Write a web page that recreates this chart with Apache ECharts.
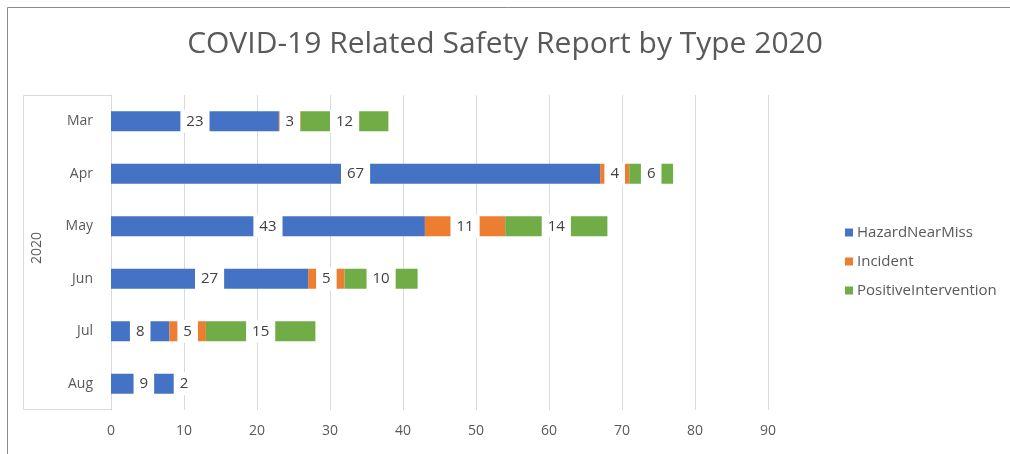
<!DOCTYPE html>
<html>
<head>
<meta charset="utf-8">
<script src="https://cdn.jsdelivr.net/npm/echarts@6/dist/echarts.min.js"></script>
<style>
html,body{margin:0;padding:0;background:#fff;}
#chart{width:1010px;height:454px;}
</style>
</head>
<body>
<div id="chart"></div>
<script>
const months = ['Mar', 'Apr', 'May', 'Jun', 'Jul', 'Aug'];
const groupLabel = '2020';
const hazardNearMiss = [23, 67, 43, 27, 8, 9];
const incident = [3, 4, 11, 5, 5, 2];
const positiveIntervention = [12, 6, 14, 10, 15, null];
const xTicks = [0, 90, 10];
const titleText = 'COVID-19 Related Safety Report by Type 2020';

const FONT = '"Open Sans", "Noto Sans", sans-serif';
const chart = echarts.init(document.getElementById('chart'), null, {renderer: 'canvas'});

function mkSeries(name, data, color) {
  return {
    name: name,
    type: 'bar',
    stack: 'total',
    data: data,
    barCategoryGap: '62%',
    itemStyle: {color: color},
    label: {
      show: true,
      position: 'inside',
      color: '#404040',
      fontSize: 15,
      fontFamily: FONT,
      backgroundColor: '#ffffff',
      padding: [4, 6, 4, 6]
    },
    labelLayout: {hideOverlap: false}
  };
}

chart.setOption({
  animation: false,
  backgroundColor: '#ffffff',
  textStyle: {fontFamily: FONT},
  title: {
    text: titleText,
    left: 'center',
    top: 24,
    textStyle: {fontFamily: FONT, fontSize: 30, fontWeight: 'normal', color: '#595959'}
  },
  legend: {
    orient: 'vertical',
    left: 840,
    top: 220,
    itemWidth: 8,
    itemHeight: 8,
    itemGap: 14,
    icon: 'rect',
    textStyle: {fontFamily: FONT, fontSize: 15, color: '#595959', padding: [0, 0, 0, -1]},
    data: ['HazardNearMiss', 'Incident', 'PositiveIntervention']
  },
  grid: {left: 111, right: 242, top: 95, bottom: 44, containLabel: false},
  xAxis: {
    type: 'value',
    min: xTicks[0],
    max: xTicks[1],
    interval: xTicks[2],
    axisLine: {show: false},
    axisTick: {show: false},
    splitLine: {lineStyle: {color: '#d9d9d9', width: 1}},
    axisLabel: {color: '#595959', fontSize: 14, fontFamily: FONT, margin: 14}
  },
  yAxis: {
    type: 'category',
    data: months,
    inverse: true,
    axisLine: {show: true, lineStyle: {color: '#d9d9d9'}},
    axisTick: {show: false},
    axisLabel: {color: '#595959', fontSize: 14, fontFamily: FONT, margin: 18}
  },
  series: [
    mkSeries('HazardNearMiss', hazardNearMiss, '#4472C4'),
    mkSeries('Incident', incident, '#ED7D31'),
    mkSeries('PositiveIntervention', positiveIntervention, '#70AD47')
  ],
  graphic: [
    {type: 'polyline', shape: {points: [[1010, 7.5], [7.5, 7.5], [7.5, 454]]}, style: {fill: null, stroke: '#8c8c8c', lineWidth: 1}, silent: true},
    {type: 'polyline', shape: {points: [[111, 95.5], [23.5, 95.5], [23.5, 409.5], [111, 409.5]]}, style: {fill: null, stroke: '#d9d9d9', lineWidth: 1}, silent: true},
    {type: 'text', x: 37, y: 248, rotation: Math.PI / 2, style: {text: groupLabel, fill: '#595959', font: '14px ' + FONT, align: 'center', verticalAlign: 'middle'}, silent: true}
  ]
});
</script>
</body>
</html>
